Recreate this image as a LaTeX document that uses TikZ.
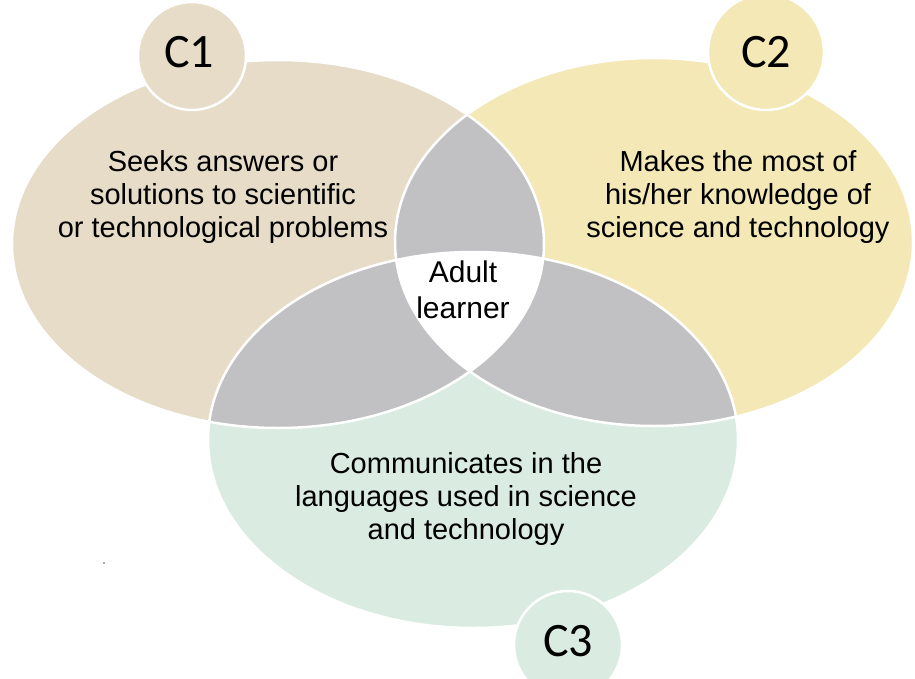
\documentclass[tikz,border=0pt]{standalone}
\usepackage{fontspec}
\setmainfont{Liberation Sans}
\newfontfamily\calfont{Carlito}
\definecolor{colA}{HTML}{E6DCC7}
\definecolor{colB}{HTML}{F3E8B6}
\definecolor{colC}{HTML}{DAECE1}
\definecolor{lensgray}{HTML}{C1C0C3}
\begin{document}
\begin{tikzpicture}[x=1pt,y=-1pt,
  lbl/.style={font=\fontsize{29}{33}\selectfont, align=center, inner sep=0pt, text=black},
  cnode/.style={circle, minimum size=108pt, draw=white, line width=2.5pt, inner sep=0pt,
                font=\calfont\fontsize{48}{48}\selectfont, text=black},
  rim/.style={draw=white, line width=2.5pt}]
\useasboundingbox (0,0) rectangle (915,679);
\coordinate (cA) at (278,244);
\coordinate (cB) at (654,242);
\coordinate (cC) at (473,440);
% ellipses
\fill[colA] (cA) ellipse (266 and 184);
\fill[colB] (cB) ellipse (259 and 184);
\fill[colC] (cC) ellipse (265 and 188);
% pairwise overlaps
\begin{scope}
  \clip (cA) ellipse (266 and 184);
  \fill[lensgray] (cB) ellipse (259 and 184);
  \fill[lensgray] (cC) ellipse (265 and 188);
\end{scope}
\begin{scope}
  \clip (cB) ellipse (259 and 184);
  \fill[lensgray] (cC) ellipse (265 and 188);
\end{scope}
% triple overlap
\begin{scope}
  \clip (cA) ellipse (266 and 184);
  \clip (cB) ellipse (259 and 184);
  \fill[white] (cC) ellipse (265 and 188);
\end{scope}
% white rims
\draw[rim] (cA) ellipse (266 and 184);
\draw[rim] (cB) ellipse (259 and 184);
\draw[rim] (cC) ellipse (265 and 188);
% label circles
\node[cnode, fill=colA] (c1) at (192,56) {\hspace*{-6pt}\raisebox{8pt}{C1}};
\node[cnode, fill=colB, minimum size=116pt] (c2) at (766,52) {\raisebox{-11pt}{C2}};
\node[cnode, fill=colC] (c3) at (568,645) {\raisebox{8pt}{C3}};
% texts
\node[lbl] (t1) at (223,197) {Seeks answers or\\solutions to scientific\\or technological problems};
\node[lbl] (t2) at (738,197) {Makes the most of\\his/her knowledge of\\science and technology};
\node[lbl] (t3) at (466,499) {Communicates in the\\languages used in science\\and technology};
\node[lbl, font=\fontsize{30}{36}\selectfont] (adult) at (463,290) {Adult\\learner};
% stray dot
\fill[black!70] (104,563) circle (0.9);
\end{tikzpicture}
\end{document}
